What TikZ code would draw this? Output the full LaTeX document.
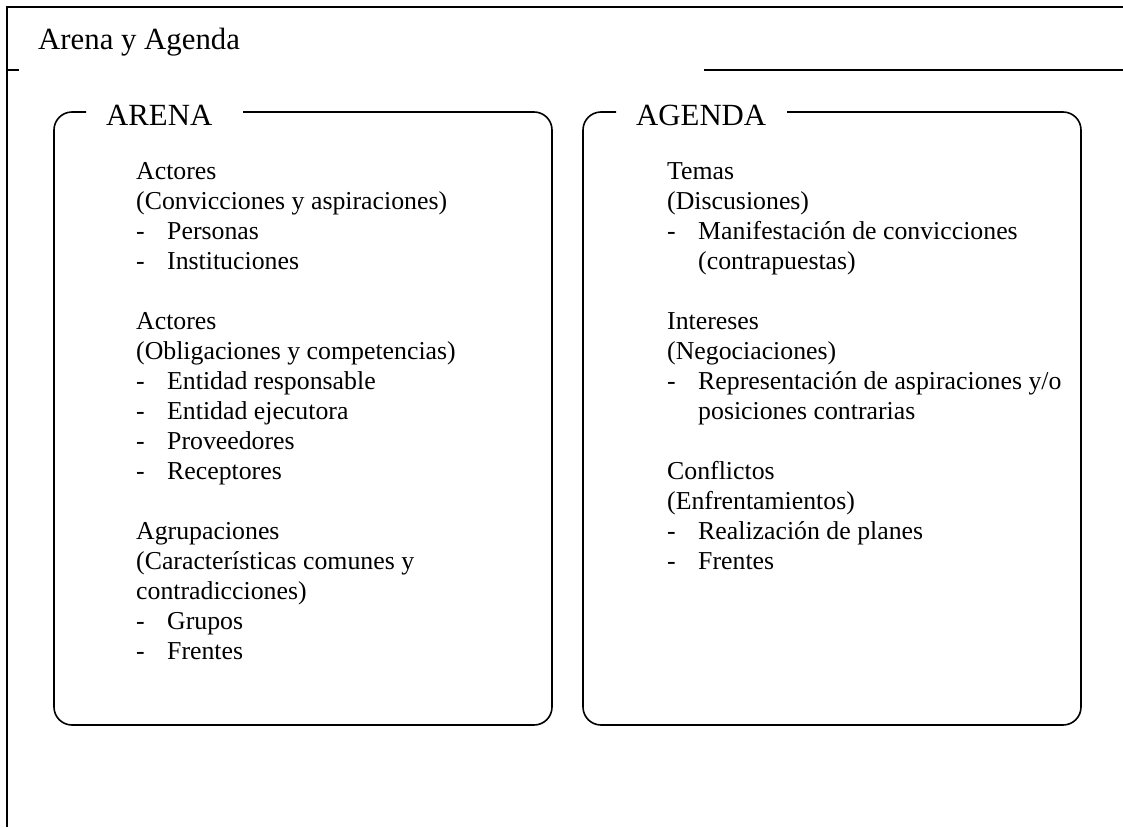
\documentclass[tikz,border=0pt]{standalone}
\usepackage{fontspec}
\setmainfont{Liberation Serif}
\begin{document}
\begin{tikzpicture}[x=1pt,y=-1pt,
  titletext/.style={font=\fontsize{30.8}{36}\selectfont, anchor=base west, inner sep=0pt},
  bodytext/.style={font=\fontsize{25.8}{30}\selectfont, anchor=base west, inner sep=0pt},
  frameline/.style={line width=1.3pt},
  boxline/.style={line width=1.6pt, rounded corners=18pt}]
\useasboundingbox (0,0) rectangle (1123,827);
% outer frame
\coordinate (fTR) at (1123,7);
\coordinate (fTL) at (7,7);
\coordinate (fBL) at (7,827);
\coordinate (tickA) at (7,70);
\coordinate (tickB) at (19,70);
\coordinate (ruleA) at (704,70);
\coordinate (ruleB) at (1123,70);
\draw[frameline] (fTR) -- (fTL) -- (fBL);
\draw[frameline] (tickA) -- (tickB);
\draw[frameline] (ruleA) -- (ruleB);
\node[titletext] (title) at (38,49) {Arena y Agenda};

% ARENA box
\node[titletext] (arena) at (106,125) {ARENA};
\draw[boxline] (86,112) -- (54,112) -- (54,725) -- (552,725) -- (552,112) -- (243,112);
% AGENDA box
\node[titletext] (agenda) at (636,125) {AGENDA};
\draw[boxline] (616,112) -- (583,112) -- (583,725) -- (1081,725) -- (1081,112) -- (787,112);

% ARENA content
\node[bodytext] (a0) at (136,179) {Actores};
\node[bodytext] (a1) at (136,209) {(Convicciones y aspiraciones)};
\node[bodytext] (d2) at (136,239) {-};
\node[bodytext] (a2) at (167,239) {Personas};
\node[bodytext] (d3) at (136,269) {-};
\node[bodytext] (a3) at (167,269) {Instituciones};
\node[bodytext] (a5) at (136,329) {Actores};
\node[bodytext] (a6) at (136,359) {(Obligaciones y competencias)};
\node[bodytext] (d7) at (136,389) {-};
\node[bodytext] (a7) at (167,389) {Entidad responsable};
\node[bodytext] (d8) at (136,419) {-};
\node[bodytext] (a8) at (167,419) {Entidad ejecutora};
\node[bodytext] (d9) at (136,449) {-};
\node[bodytext] (a9) at (167,449) {Proveedores};
\node[bodytext] (d10) at (136,479) {-};
\node[bodytext] (a10) at (167,479) {Receptores};
\node[bodytext] (a12) at (136,539) {Agrupaciones};
\node[bodytext] (a13) at (136,569) {(Características comunes y};
\node[bodytext] (a14) at (136,599) {contradicciones)};
\node[bodytext] (d15) at (136,629) {-};
\node[bodytext] (a15) at (167,629) {Grupos};
\node[bodytext] (d16) at (136,659) {-};
\node[bodytext] (a16) at (167,659) {Frentes};

% AGENDA content
\node[bodytext] (b0) at (667,179) {Temas};
\node[bodytext] (b1) at (667,209) {(Discusiones)};
\node[bodytext] (e2) at (667,239) {-};
\node[bodytext] (b2) at (698,239) {Manifestación de convicciones};
\node[bodytext] (b3) at (698,269) {(contrapuestas)};
\node[bodytext] (b5) at (667,329) {Intereses};
\node[bodytext] (b6) at (667,359) {(Negociaciones)};
\node[bodytext] (e7) at (667,389) {-};
\node[bodytext] (b7) at (698,389) {Representación de aspiraciones y/o};
\node[bodytext] (b8) at (698,419) {posiciones contrarias};
\node[bodytext] (b10) at (667,479) {Conflictos};
\node[bodytext] (b11) at (667,509) {(Enfrentamientos)};
\node[bodytext] (e12) at (667,539) {-};
\node[bodytext] (b12) at (698,539) {Realización de planes};
\node[bodytext] (e13) at (667,569) {-};
\node[bodytext] (b13) at (698,569) {Frentes};
\end{tikzpicture}
\end{document}
